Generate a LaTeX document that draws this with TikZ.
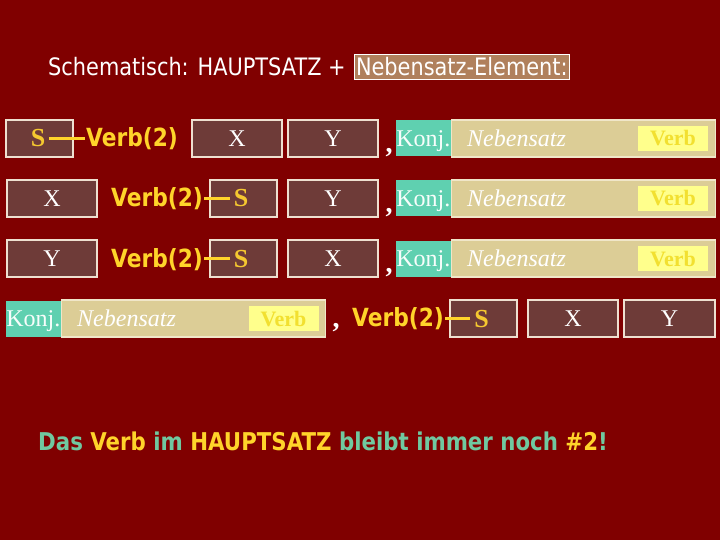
\documentclass[tikz,border=0pt]{standalone}
\usepackage{fontspec}
\setmainfont{Liberation Serif}
\newfontfamily\tah[FakeStretch=0.87]{DejaVu Sans}
\definecolor{bg}{HTML}{800000}
\definecolor{boxfill}{HTML}{6E3B38}
\definecolor{boxline}{HTML}{EEE0D0}
\definecolor{konjc}{HTML}{5FD0B0}
\definecolor{tanc}{HTML}{DCCD96}
\definecolor{verbboxc}{HTML}{FFFF8C}
\definecolor{verbtxt}{HTML}{F2E030}
\definecolor{yel}{HTML}{FFD42A}
\definecolor{stxt}{HTML}{F5C830}
\definecolor{bteal}{HTML}{70C8A0}
\definecolor{nselc}{HTML}{B0805C}
\definecolor{tanline}{HTML}{F0E6C8}
\begin{document}
\begin{tikzpicture}[x=1pt,y=-1pt,
  brbox/.style={draw=boxline, line width=1.2pt, fill=boxfill, minimum height=37pt,
    inner sep=0pt, text height=16pt, text depth=0pt, text=white,
    font=\fontsize{24}{28}\selectfont},
  slabel/.style={text=stxt, inner xsep=4pt, inner ysep=0pt, text height=17pt, text depth=0pt,
    font=\bfseries\fontsize{26}{30}\selectfont},
  verbtwo/.style={text=yel, inner sep=1pt, font=\tah\bfseries\fontsize{25}{30}\selectfont},
  conn/.style={yel, line width=3.5pt},
  commamark/.style={text=white, inner sep=0pt, font=\bfseries\fontsize{28}{32}\selectfont},
  nebbox/.style={draw=tanline, line width=1.2pt, fill=tanc, minimum height=37pt,
    minimum width=264pt, inner sep=0pt},
  konjbox/.style={fill=konjc, minimum height=36pt, minimum width=55pt, inner sep=0pt,
    text height=16pt, text depth=0pt, text=white!95!konjc,
    font=\fontsize{24}{28}\selectfont},
  nebtxt/.style={text=white, inner sep=0pt, text height=16pt, text depth=0pt,
    font=\itshape\fontsize{24}{28}\selectfont},
  verbboxs/.style={fill=verbboxc, minimum width=70pt, minimum height=25pt, inner sep=0pt,
    text height=15pt, text depth=0pt, text=verbtxt,
    font=\bfseries\fontsize{22}{26}\selectfont},
  titletext/.style={text=white, inner sep=0pt, font=\tah\fontsize{24}{28}\selectfont},
  titlebox/.style={draw=white, line width=1pt, fill=nselc, text=white, inner xsep=1.5pt,
    inner ysep=3.5pt, font=\tah\fontsize{24}{28}\selectfont},
  bottomtext/.style={inner sep=0pt, font=\tah\bfseries\fontsize{24.5}{29}\selectfont}
]
\fill[bg] (0,0) rectangle (720,540);
\useasboundingbox (0,0) rectangle (720,540);

% title
\node[titletext, anchor=base west] (title) at (48,76) {Schematisch: HAUPTSATZ +};
\node[titlebox, anchor=base west] (nsel) at (354,76) {Nebensatz-Element:};

% row 1
\node[brbox, minimum width=67pt] (r1s) at (39.5,138.5) {};
\node[slabel] (r1sl) at (38,138.5) {S};
\node[verbtwo, anchor=base west] (r1v) at (85,147) {Verb(2)};
\draw[conn] (r1sl.east) -- (r1sl.east -| r1v.west);
\node[brbox, minimum width=90pt] (r1x) at (237,138.5) {X};
\node[brbox, minimum width=90pt] (r1y) at (333,138.5) {Y};

% row 2
\node[brbox, minimum width=90pt] (r2x) at (52,198.5) {X};
\node[verbtwo, anchor=base west] (r2v) at (110,207) {Verb(2)};
\node[brbox, minimum width=67pt] (r2s) at (243.5,198.5) {};
\node[slabel] (r2sl) at (241,198.5) {S};
\draw[conn] (r2sl.west -| r2v.east) -- (r2sl.west);
\node[brbox, minimum width=90pt] (r2y) at (333,198.5) {Y};

% row 3
\node[brbox, minimum width=90pt] (r3y) at (52,258.5) {Y};
\node[verbtwo, anchor=base west] (r3v) at (110,267) {Verb(2)};
\node[brbox, minimum width=67pt] (r3s) at (243.5,258.5) {};
\node[slabel] (r3sl) at (241,258.5) {S};
\draw[conn] (r3sl.west -| r3v.east) -- (r3sl.west);
\node[brbox, minimum width=90pt] (r3x) at (333,258.5) {X};

% subordinate clauses rows 1-3
\foreach \r/\yy in {1/138.5, 2/198.5, 3/258.5}{
  \node[commamark, anchor=base] (r\r c) at (389,\yy+14) {,};
  \node[nebbox, anchor=west] (r\r n) at (451,\yy) {};
  \node[konjbox, anchor=east] (r\r k) at (451,\yy) {Konj.};
  \node[nebtxt, anchor=west] (r\r nt) at (467,\yy) {Nebensatz};
  \node[verbboxs] (r\r vb) at (673,\yy) {Verb};
}

% row 4
\node[nebbox, anchor=west] (r4n) at (61,318.5) {};
\node[konjbox, anchor=east] (r4k) at (61,318.5) {Konj.};
\node[nebtxt, anchor=west] (r4nt) at (77,318.5) {Nebensatz};
\node[verbboxs] (r4vb) at (283.5,318.5) {Verb};
\node[commamark, anchor=base] (r4c) at (336,327) {,};
\node[verbtwo, anchor=base west] (r4v) at (351,326) {Verb(2)};
\node[brbox, minimum width=67pt] (r4s) at (483.5,318.5) {};
\node[slabel] (r4sl) at (481.5,318.5) {S};
\draw[conn] (r4sl.west -| r4v.east) -- (r4sl.west);
\node[brbox, minimum width=90pt] (r4x) at (573,318.5) {X};
\node[brbox, minimum width=91pt] (r4y) at (669.5,318.5) {Y};

% bottom line
\node[bottomtext, anchor=base west] (bottom) at (38,450)
  {\textcolor{bteal}{Das} \textcolor{yel}{Verb} \textcolor{bteal}{im} \textcolor{yel}{HAUPTSATZ} \textcolor{bteal}{bleibt immer noch} \textcolor{yel}{\#2}\textcolor{bteal}{!}};
\end{tikzpicture}
\end{document}
